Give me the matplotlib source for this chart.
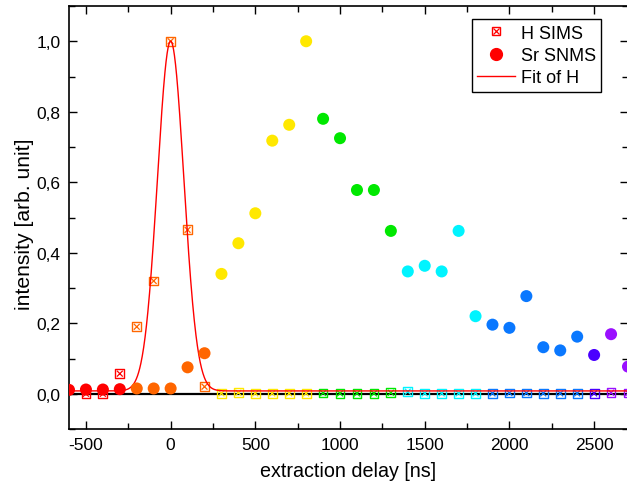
import numpy as np
import matplotlib
matplotlib.use("Agg")
import matplotlib.pyplot as plt
from matplotlib.ticker import MultipleLocator, FuncFormatter
from matplotlib.legend_handler import HandlerTuple
from matplotlib.lines import Line2D

plt.rcParams['font.family'] = ['Liberation Sans', 'DejaVu Sans']
plt.rcParams['axes.unicode_minus'] = False

# colour groups along the delay axis
red, orange, yellow = '#ff0000', '#ff6600', '#ffe800'
green, cyan, blue = '#00e800', '#00f4ff', '#0a78ff'
indigo, violet = '#4a00ff', '#9a10ff'

# Sr SNMS (post-ionised neutrals)
sr_delay = [-600, -500, -400, -300, -200, -100, 0, 100, 200, 300, 400, 500,
            600, 700, 800, 900, 1000, 1100, 1200, 1300, 1400, 1500, 1600, 1700,
            1800, 1900, 2000, 2100, 2200, 2300, 2400, 2500, 2600, 2700]
sr_int = [0.011, 0.012, 0.012, 0.013, 0.015, 0.015, 0.015, 0.075, 0.115, 0.340,
          0.427, 0.512, 0.718, 0.763, 1.000, 0.780, 0.725, 0.578, 0.578, 0.462,
          0.347, 0.363, 0.347, 0.462, 0.220, 0.196, 0.187, 0.277, 0.132, 0.123,
          0.162, 0.110, 0.169, 0.077]
sr_colors = [red] * 4 + [orange] * 5 + [yellow] * 6 + [green] * 5 + [cyan] * 5 \
    + [blue] * 6 + [indigo] + [violet] * 2

# H SIMS (secondary ions)
h_delay = [-500, -400, -300, -200, -100, 0, 100, 200, 300, 400, 500, 600, 700,
           800, 900, 1000, 1100, 1200, 1300, 1400, 1500, 1600, 1700, 1800, 1900,
           2000, 2100, 2200, 2300, 2400, 2500, 2600, 2700]
h_int = [0.0, 0.0, 0.057, 0.190, 0.320, 1.000, 0.465, 0.020, 0.001, 0.003, 0.001,
         0.001, 0.001, 0.001, 0.002, 0.001, 0.001, 0.001, 0.003, 0.006, 0.001,
         0.001, 0.001, 0.001, 0.001, 0.002, 0.002, 0.001, 0.001, 0.001, 0.001,
         0.003, 0.002]
h_colors = [red] * 3 + [orange] * 5 + [yellow] * 6 + [green] * 5 + [cyan] * 5 \
    + [blue] * 6 + [indigo] + [violet] * 2

# Gaussian fit of H (parameters)
fit_offset = 0.008
fit_amp = 0.992
fit_center = 0.0
fit_sigma = 78.0

fig = plt.figure(figsize=(6.27, 4.89), dpi=100)
ax = fig.add_axes([69 / 627, 1 - 430 / 489, 559 / 627, 423 / 489])

ax.axhline(0, color='black', lw=1.6, zorder=1)

ax.scatter(h_delay, h_int, s=40, marker='s', facecolors='none',
           edgecolors=h_colors, linewidths=1.0, zorder=3)
ax.scatter(h_delay, h_int, s=18, marker='x', c=h_colors, linewidths=0.9, zorder=3)

xf = np.linspace(-600, 2700, 2000)
yf = fit_offset + fit_amp * np.exp(-(xf - fit_center) ** 2 / (2 * fit_sigma ** 2))
ax.plot(xf, yf, color='red', lw=1.0, zorder=4)

ax.scatter(sr_delay, sr_int, s=75, marker='o', c=sr_colors, linewidths=0, zorder=5)

ax.set_xlim(-600, 2700)
ax.set_ylim(-0.1, 1.1)
ax.xaxis.set_major_locator(MultipleLocator(500))
ax.xaxis.set_minor_locator(MultipleLocator(250))
ax.yaxis.set_major_locator(MultipleLocator(0.2))
ax.yaxis.set_minor_locator(MultipleLocator(0.1))
ax.yaxis.set_major_formatter(FuncFormatter(lambda v, p: f"{v:.1f}".replace('.', ',')))
ax.tick_params(which='both', direction='in', top=True, right=True, labelsize=12.5)
ax.tick_params(which='major', length=6, width=1.0, pad=6)
ax.tick_params(which='minor', length=4, width=1.0)
for s in ax.spines.values():
    s.set_linewidth(1.2)

ax.set_xlabel('extraction delay [ns]', fontsize=14.2)
ax.xaxis.set_label_coords(0.5, -32 / 423)
ax.set_ylabel('intensity [arb. unit]', fontsize=15.2)
ax.yaxis.set_label_coords(-35 / 559, 0.486)

h_sq = Line2D([], [], ls='none', marker='s', ms=6, mfc='none', mec='red', mew=1.0)
h_x = Line2D([], [], ls='none', marker='x', ms=4, color='red', mew=0.9)
sr_h = Line2D([], [], ls='none', marker='o', ms=8.5, color='red')
fit_h = Line2D([], [], color='red', lw=1.0)
leg = ax.legend([(h_sq, h_x), sr_h, fit_h], ['H SIMS', 'Sr SNMS', 'Fit of H'],
                handler_map={tuple: HandlerTuple(ndivide=1)},
                loc='upper right', bbox_to_anchor=(0.952, 0.969), borderaxespad=0,
                fontsize=13, fancybox=False, framealpha=1, edgecolor='black',
                handlelength=2.1, handletextpad=0.3, borderpad=0.3, labelspacing=0.3)
leg.get_frame().set_linewidth(1.0)

fig.savefig('out.png', dpi=100)
